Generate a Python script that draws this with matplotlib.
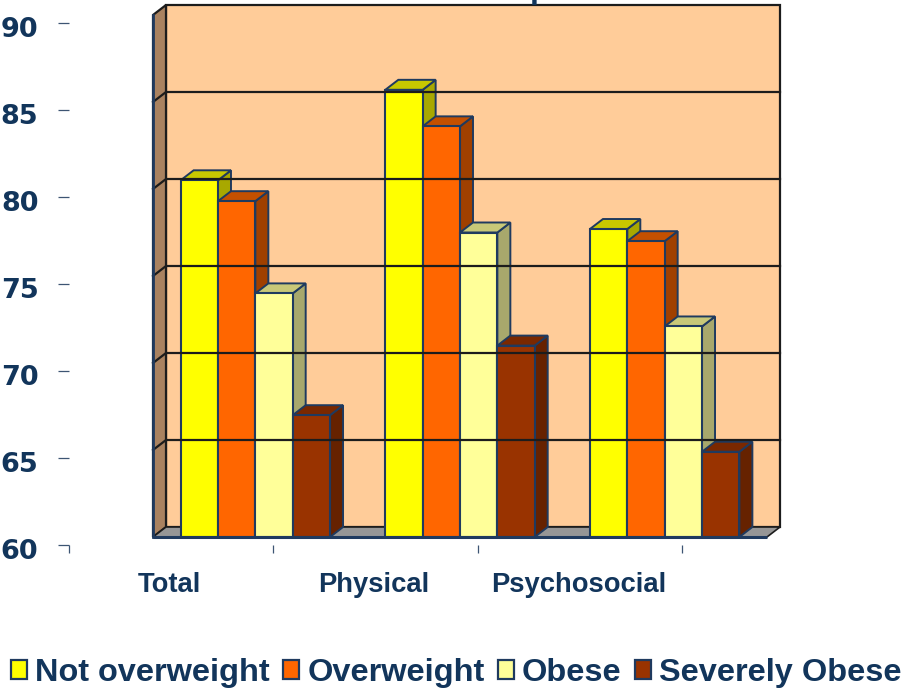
import matplotlib
matplotlib.use("Agg")
import matplotlib.pyplot as plt
from matplotlib.patches import Patch
from matplotlib.transforms import ScaledTranslation

W, H = 906, 688
NAVY = "#12355B"
EDGE = "#1F3A5F"
WALL_EDGE = "#1c1c1c"

groups = ["Total", "Physical", "Psychosocial"]
series = ["Not overweight", "Overweight", "Obese", "Severely Obese"]
not_overweight = [80.5, 85.7, 77.7]
overweight = [79.3, 83.6, 77.0]
obese = [74.0, 77.5, 72.1]
severely_obese = [67.0, 71.0, 64.9]
y_ticks = [60, 65, 70, 75, 80, 85, 90]

front_cols = ["#FFFF00", "#FF6600", "#FFFF99", "#993300"]
top_cols = ["#C8C800", "#C45000", "#C8C878", "#7A2800"]
side_cols = ["#A8A800", "#A04000", "#A8A86C", "#662200"]


def px_axes(fig, left, right, bottom, top):
    # axes box given in pixels measured from the top left corner
    return fig.add_axes([left / W, 1 - bottom / H, (right - left) / W, (bottom - top) / H])


fig = plt.figure(figsize=(W / 100, H / 100), dpi=100)

# axis with the ticks and labels, it sits apart from the box of the bars
axt = px_axes(fig, 69, 682, 544.5, 23)
axt.set_xlim(0, 3)
axt.set_ylim(60, 90)
axt.patch.set_visible(False)
for s in axt.spines.values():
    s.set_visible(False)
axt.set_yticks(y_ticks)
axt.set_yticklabels([str(v) for v in y_ticks], family="DejaVu Sans", weight="bold", fontsize=19.5, color=NAVY)
axt.tick_params(axis="y", length=8, width=0.9, color="#3d5573", pad=14)
axt.set_xticks([0, 1, 2, 3])
axt.set_xticklabels([])
axt.tick_params(axis="x", which="major", length=6, width=0.9, color="#3d5573")
axt.set_xticks([0.5, 1.5, 2.5], minor=True)
axt.set_xticklabels(groups, minor=True, family="Liberation Sans", weight="bold", fontsize=19.7, color=NAVY)
axt.tick_params(axis="x", which="minor", length=0, pad=20)
shift = ScaledTranslation(0, -3 / 72, fig.dpi_scale_trans)
for lab in axt.get_yticklabels():
    lab.set_transform(lab.get_transform() + shift)
shift_x = ScaledTranslation(-1.5 / 100, 0, fig.dpi_scale_trans)
for lab in axt.get_xticklabels(minor=True):
    lab.set_transform(lab.get_transform() + shift_x)

# front plane of the box, depth faces are offset from it
ax = px_axes(fig, 153, 767, 537, 15)
ax.set_xlim(0, 3)
ax.set_ylim(60, 90)
ax.axis("off")
dx = 13 / (614 / 3)
dy = 10 / (522 / 30)

ax.fill([dx, 3 + dx, 3 + dx, dx], [60 + dy, 60 + dy, 90 + dy, 90 + dy], fc="#FFCC99", ec=WALL_EDGE, lw=1.6, clip_on=False)
ax.fill([0, dx, dx, 0], [60, 60 + dy, 90 + dy, 90], fc="#A98260", ec=WALL_EDGE, lw=1.6, clip_on=False)
ax.fill([0, 3, 3 + dx, dx], [60, 60, 60 + dy, 60 + dy], fc="#969696", ec=WALL_EDGE, lw=1.2, clip_on=False)
for v in y_ticks[1:-1]:
    ax.plot([0, dx, 3 + dx], [v, v + dy, v + dy], color=WALL_EDGE, lw=1.6, clip_on=False)
ax.plot([0, 0], [60, 90], color=EDGE, lw=2, clip_on=False)

bar_w = 0.1825
gap = 0.135
all_vals = [not_overweight, overweight, obese, severely_obese]
for g in range(len(groups)):
    for j, vals in enumerate(all_vals):
        x0 = g + gap + j * bar_w
        x1 = x0 + bar_w
        v = vals[g]
        ax.fill([x1, x1 + dx, x1 + dx, x1], [60, 60 + dy, v + dy, v], fc=side_cols[j], ec=EDGE, lw=1.4, clip_on=False)
        ax.fill([x0, x1, x1 + dx, x0 + dx], [v, v, v + dy, v + dy], fc=top_cols[j], ec=EDGE, lw=1.4, clip_on=False)
        ax.bar(x0, v - 60, bar_w, bottom=60, align="edge", color=front_cols[j], edgecolor=EDGE, lw=1.5, clip_on=False)
ax.plot([0, 3], [60, 60], color=EDGE, lw=2.2, clip_on=False, solid_capstyle="butt")

handles = [Patch(fc=c, ec=EDGE, lw=1.6) for c in front_cols]
fig.legend(
    handles, series, ncol=4, frameon=False, loc="lower left",
    bbox_to_anchor=(11 / W, 0), borderaxespad=0, borderpad=0,
    prop={"family": "Liberation Sans", "weight": "bold", "size": 23.4},
    labelcolor=NAVY, handlelength=0.5, handleheight=0.5, handletextpad=0.25, columnspacing=0.4,
)

# tail of the heading, cut off by the top edge
fig.text(540 / W, 1 + 2 / H, "p", family="Liberation Sans", weight="bold", fontsize=23, color=NAVY, ha="center", va="baseline")

fig.savefig("out.png", dpi=100)
